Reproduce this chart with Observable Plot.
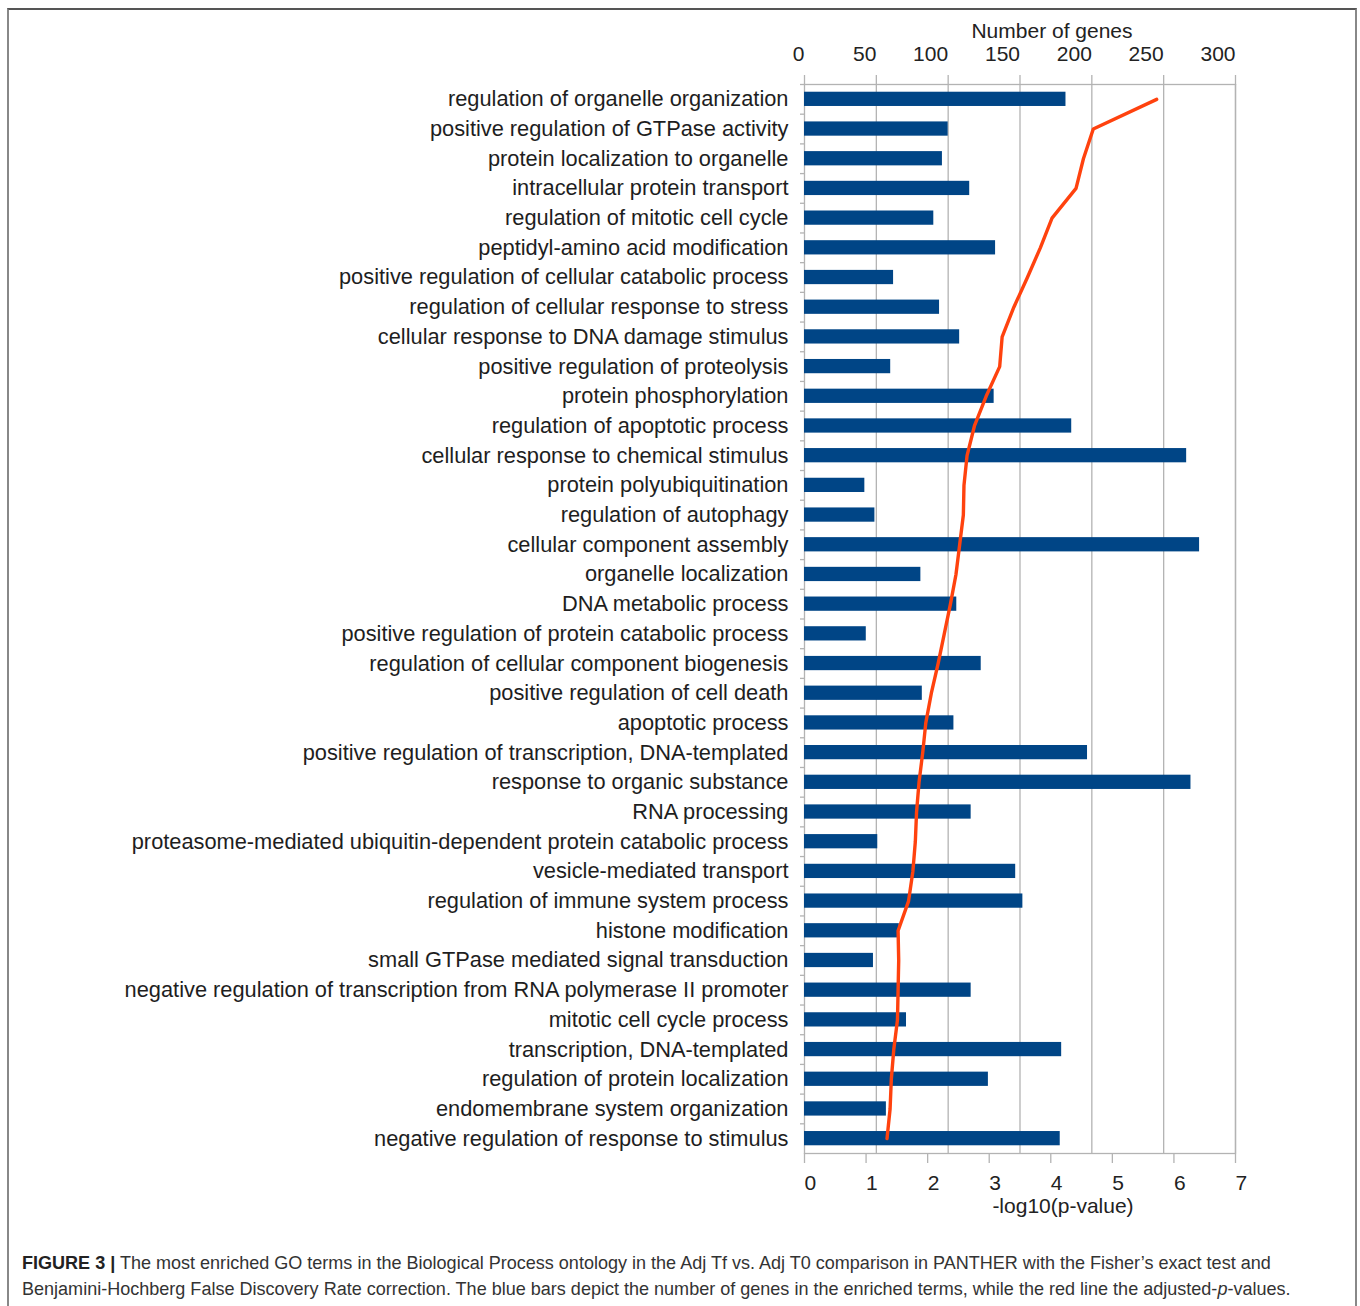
<!DOCTYPE html>
<html>
<head>
<meta charset="utf-8">
<script src="https://cdn.jsdelivr.net/npm/d3@7"></script>
<script src="https://cdn.jsdelivr.net/npm/@observablehq/plot@0.6"></script>
<style>
  body { margin:0; background:#fff; width:1360px; height:1306px; position:relative; overflow:hidden; font-family:"Liberation Sans", Arial, sans-serif; }
  #frame { position:absolute; left:7px; top:8px; width:1346px; height:1320px; border-top:2px solid #555; border-left:2px solid #888; border-right:2px solid #888; z-index:2; pointer-events:none; }
  #chart { position:absolute; left:0; top:0; }
  #caption { position:absolute; left:22px; top:1250px; font-size:18.05px; line-height:26px; color:#333; white-space:nowrap; font-family:"Liberation Sans", Arial, sans-serif; }
  #caption b { color:#222; }
</style>
</head>
<body>
<div id="frame"></div>
<div id="chart"></div>
<div id="caption">
  <div><b>FIGURE 3 |</b> The most enriched GO terms in the Biological Process ontology in the Adj Tf vs. Adj T0 comparison in PANTHER with the Fisher’s exact test and</div>
  <div>Benjamini-Hochberg False Discovery Rate correction. The blue bars depict the number of genes in the enriched terms, while the red line the adjusted-<i>p</i>-values.</div>
</div>
<script>
const terms = [
  "regulation of organelle organization",
  "positive regulation of GTPase activity",
  "protein localization to organelle",
  "intracellular protein transport",
  "regulation of mitotic cell cycle",
  "peptidyl-amino acid modification",
  "positive regulation of cellular catabolic process",
  "regulation of cellular response to stress",
  "cellular response to DNA damage stimulus",
  "positive regulation of proteolysis",
  "protein phosphorylation",
  "regulation of apoptotic process",
  "cellular response to chemical stimulus",
  "protein polyubiquitination",
  "regulation of autophagy",
  "cellular component assembly",
  "organelle localization",
  "DNA metabolic process",
  "positive regulation of protein catabolic process",
  "regulation of cellular component biogenesis",
  "positive regulation of cell death",
  "apoptotic process",
  "positive regulation of transcription, DNA-templated",
  "response to organic substance",
  "RNA processing",
  "proteasome-mediated ubiquitin-dependent protein catabolic process",
  "vesicle-mediated transport",
  "regulation of immune system process",
  "histone modification",
  "small GTPase mediated signal transduction",
  "negative regulation of transcription from RNA polymerase II promoter",
  "mitotic cell cycle process",
  "transcription, DNA-templated",
  "regulation of protein localization",
  "endomembrane system organization",
  "negative regulation of response to stimulus"
];
const geneCounts = [182, 100, 96, 115, 90, 133, 62, 94, 108, 60, 132, 186, 266, 42, 49, 275, 81, 106, 43, 123, 82, 104, 197, 269, 116, 51, 147, 152, 66, 48, 116, 71, 179, 128, 57, 178];
const negLog10P = [5.72, 4.69, 4.53, 4.41, 4.02, 3.83, 3.62, 3.40, 3.21, 3.17, 2.95, 2.76, 2.64, 2.59, 2.58, 2.52, 2.46, 2.37, 2.27, 2.17, 2.06, 1.97, 1.92, 1.86, 1.82, 1.80, 1.76, 1.69, 1.52, 1.53, 1.52, 1.51, 1.45, 1.41, 1.39, 1.34];
const geneTicks = [0, 50, 100, 150, 200, 250, 300];
const pTicks = [0, 1, 2, 3, 4, 5, 6, 7];
const genesTitle = "Number of genes";
const pTitle = "-log10(p-value)";

const genesMax = 300, pMax = 7;
const toGenes = v => v * genesMax / pMax;   // secondary (bottom) axis mapped onto the shared x scale
const rows = terms.map((t, i) => ({term: t, genes: geneCounts[i], p: negLog10P[i]}));

const H = 1235, mTop = 84, mBottom = 82;
const step = (H - mTop - mBottom) / terms.length;
const grid = "#b3b3b3";

const chart = Plot.plot({
  width: 1360,
  height: H,
  marginLeft: 804,
  marginRight: 125,
  marginTop: mTop,
  marginBottom: mBottom,
  style: {fontFamily: '"Liberation Sans", Arial, sans-serif', fontSize: "21px", color: "#222", background: "transparent", overflow: "visible"},
  x: {domain: [0, genesMax]},
  y: {domain: terms, paddingInner: 0.52, paddingOuter: 0.26, round: false},
  marks: [
    Plot.ruleX(geneTicks.slice(1), {stroke: grid, strokeWidth: 1.3}),
    Plot.frame({stroke: grid, strokeWidth: 1.3}),
    Plot.barX(rows, {x: "genes", y: "term", fill: "#004586"}),
    Plot.lineX(rows, {x: d => toGenes(d.p), y: "term", stroke: "#ff420e", strokeWidth: 3.4, strokeLinejoin: "round"}),
    // left axis: category labels + boundary ticks
    Plot.axisY({tickSize: 0, tickPadding: 16, label: null, fontSize: 21.8, fill: "#1e1e1e"}),
    Plot.axisY({tickSize: 4, text: null, label: null, dy: -step / 2, stroke: grid, strokeWidth: 1.3}),
    // top axis (number of genes)
    Plot.axisX({anchor: "top", ticks: geneTicks, tickSize: 10, text: null, label: null, stroke: grid, strokeWidth: 1.3}),
    Plot.axisX({anchor: "top", ticks: geneTicks, tickSize: 0, tickPadding: 24, label: null, textAnchor: "end", dx: 0, fill: "#222"}),
    // bottom axis (-log10 p)
    Plot.axisX({anchor: "bottom", ticks: pTicks.map(toGenes), tickSize: 10, text: null, label: null, stroke: grid, strokeWidth: 1.3}),
    Plot.axisX({anchor: "bottom", ticks: pTicks.map(toGenes), tickFormat: d => String(Math.round(d * pMax / genesMax)), tickSize: 0, tickPadding: 22, label: null, textAnchor: "start", dx: 0, fill: "#222"}),
    Plot.text([genesTitle], {text: d => d, frameAnchor: "top", dx: 32, dy: -53, lineAnchor: "middle", fontSize: 21, fill: "#222"}),
    Plot.text([pTitle], {text: d => d, frameAnchor: "bottom", dx: 43, dy: 53, lineAnchor: "middle", fontSize: 21, fill: "#222"})
  ]
});
document.getElementById("chart").appendChild(chart);
</script>
</body>
</html>
